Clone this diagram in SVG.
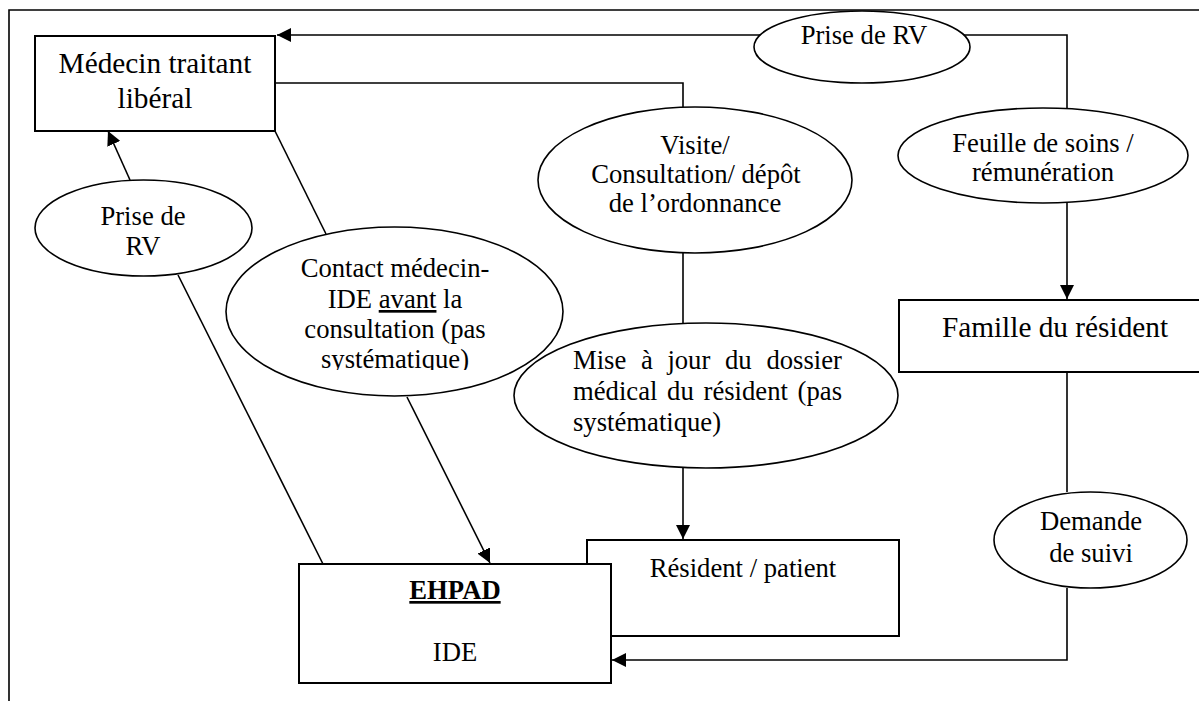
<svg xmlns="http://www.w3.org/2000/svg" width="1199" height="701" viewBox="0 0 1199 701">
<style>
  text { font-family: "Liberation Serif", "Times New Roman", serif; fill: #000; }
  .t22 { font-size: 29.3px; }
  .t20 { font-size: 26.67px; }
  .c { text-anchor: middle; }
  .box { fill: #fff; stroke: #000; stroke-width: 2; }
  .ell { fill: #fff; stroke: #000; stroke-width: 1.6; }
  .ln { fill: none; stroke: #000; stroke-width: 1.6; }
  .u { text-decoration: underline; }
</style>
<defs>
  <marker id="arr" markerUnits="userSpaceOnUse" markerWidth="15" markerHeight="14" refX="14" refY="7" orient="auto">
    <path d="M0,0 L14,7 L0,14 z" fill="#000"/>
  </marker>
  <clipPath id="clipContact">
    <rect x="220" y="220" width="350" height="150"/>
  </clipPath>
</defs>
<rect x="0" y="0" width="1199" height="701" fill="#fff"/>
<path class="ln" d="M9,701 V10 H1199"/>

<g id="connectors">
  <polyline class="ln" points="1067,108 1067,35 277,35" marker-end="url(#arr)"/>
  <polyline class="ln" points="275,83 683,83 683,107"/>
  <line class="ln" x1="683" y1="252" x2="683" y2="323"/>
  <line class="ln" x1="683" y1="468" x2="683" y2="539" marker-end="url(#arr)"/>
  <line class="ln" x1="1067" y1="203" x2="1067" y2="299" marker-end="url(#arr)"/>
  <line class="ln" x1="1067" y1="372" x2="1067" y2="492"/>
  <polyline class="ln" points="1067,588 1067,660 612,660" marker-end="url(#arr)"/>
  <line class="ln" x1="130" y1="180" x2="108" y2="131" marker-end="url(#arr)"/>
  <line class="ln" x1="275" y1="131" x2="326" y2="234"/>
  <line class="ln" x1="178" y1="275" x2="323" y2="564"/>
  <line class="ln" x1="407" y1="397" x2="490" y2="563" marker-end="url(#arr)"/>
</g>

<g id="medecin">
  <rect class="box" x="35" y="36" width="240" height="95"/>
  <text class="t22 c" x="155" y="73">Médecin traitant</text>
  <text class="t22 c" x="155" y="108">libéral</text>
</g>

<g id="prise-rv-top">
  <ellipse class="ell" cx="862" cy="47" rx="108" ry="36"/>
  <text class="t20 c" x="864" y="44">Prise de RV</text>
</g>

<g id="feuille">
  <ellipse class="ell" cx="1043" cy="155.5" rx="145" ry="47.5"/>
  <text class="t20 c" x="1043" y="152">Feuille de soins /</text>
  <text class="t20 c" x="1043" y="181">rémunération</text>
</g>

<g id="visite">
  <ellipse class="ell" cx="695" cy="180" rx="157" ry="73"/>
  <text class="t20 c" x="695" y="154">Visite/</text>
  <text class="t20 c" x="696" y="183">Consultation/ dépôt</text>
  <text class="t20 c" x="695" y="212">de l’ordonnance</text>
</g>

<g id="prise-rv-left">
  <ellipse class="ell" cx="143.5" cy="228" rx="108.5" ry="48"/>
  <text class="t20 c" x="143" y="225">Prise de</text>
  <text class="t20 c" x="143" y="255">RV</text>
</g>

<g id="contact">
  <ellipse class="ell" cx="394.5" cy="311.5" rx="168.5" ry="84.5"/>
  <g clip-path="url(#clipContact)">
    <text class="t20 c" x="395" y="277">Contact médecin-</text>
    <text class="t20 c" x="395" y="308">IDE <tspan class="u">avant</tspan> la</text>
    <text class="t20 c" x="395" y="338">consultation (pas</text>
    <text class="t20 c" x="395" y="368">systématique)</text>
  </g>
</g>

<g id="mise-a-jour">
  <ellipse class="ell" cx="706" cy="395.5" rx="192" ry="72.5"/>
  <text class="t20" y="369"><tspan x="573">Mise</tspan><tspan x="640.9">à</tspan><tspan x="667.4">jour</tspan><tspan x="725.0">du</tspan><tspan x="766.4">dossier</tspan></text>
  <text class="t20" y="400"><tspan x="573">médical</tspan><tspan x="667.1">du</tspan><tspan x="703.5">résident</tspan><tspan x="797.6">(pas</tspan></text>
  <text class="t20" x="573" y="431">systématique)</text>
</g>

<g id="famille">
  <rect class="box" x="899" y="300" width="310" height="72"/>
  <text class="t22 c" x="1055" y="337">Famille du résident</text>
</g>

<g id="demande">
  <ellipse class="ell" cx="1090.5" cy="540" rx="96.5" ry="48"/>
  <text class="t20 c" x="1091" y="530">Demande</text>
  <text class="t20 c" x="1091" y="562">de suivi</text>
</g>

<g id="resident">
  <rect class="box" x="587" y="540" width="312" height="96"/>
  <text class="t20 c" x="743" y="577">Résident / patient</text>
</g>

<g id="ehpad">
  <rect class="box" x="299" y="564" width="312" height="119"/>
  <text class="t20 c u" x="455" y="599" font-weight="bold">EHPAD</text>
  <text class="t20 c" x="455" y="661">IDE</text>
</g>
</svg>
